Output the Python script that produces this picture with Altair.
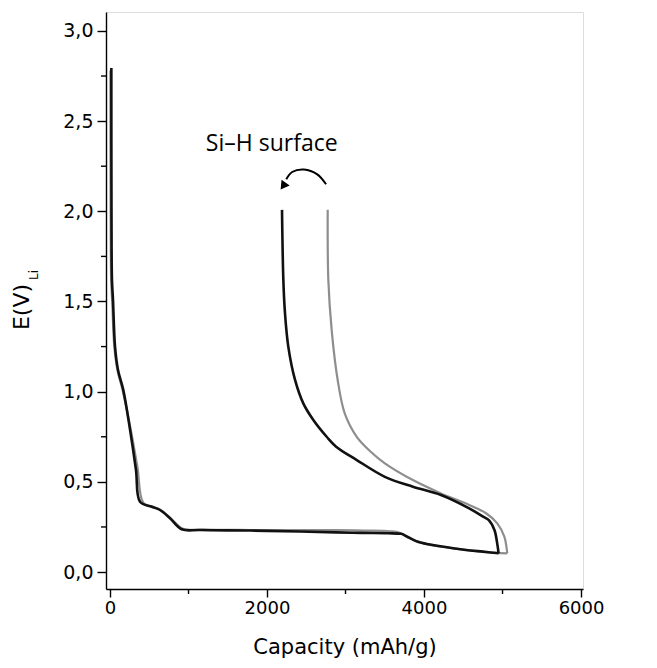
import altair as alt
import pandas as pd

# ---- data (Capacity mAh/g, E V vs Li) ----
# black curve (Si-H surface) : first lithiation
blk_dis_x = [17, 19, 25, 38, 64, 102, 169, 255, 331, 382, 531, 637, 764, 913, 1146, 1783,
             2420, 2880, 3200, 3540, 3710, 3750, 3835, 3920, 4060, 4390, 4750, 4950]
blk_dis_y = [2.795, 2.008, 1.62, 1.51, 1.25, 1.12, 1.01, 0.79, 0.566, 0.39, 0.362, 0.344, 0.298,
             0.237, 0.233, 0.230, 0.225, 0.220, 0.217, 0.215, 0.212, 0.205, 0.185, 0.168, 0.154,
             0.131, 0.113, 0.104]
# black curve : delithiation
blk_chg_x = [4950, 4932, 4897, 4825, 4753, 4575, 4216, 3858, 3501, 3143, 2880, 2760, 2590,
             2462, 2357, 2271, 2229, 2208, 2191]
blk_chg_y = [0.104, 0.159, 0.233, 0.288, 0.307, 0.353, 0.427, 0.473, 0.528, 0.621, 0.695,
             0.75, 0.843, 0.935, 1.065, 1.25, 1.435, 1.62, 2.008]
# grey curve : first lithiation
gry_dis_x = [5, 8, 15, 28, 55, 95, 165, 260, 350, 424, 560, 660, 780, 930, 1200, 1800, 2400,
             2880, 3230, 3570, 3690, 3800, 4030, 4350, 4710, 4910, 5060]
gry_dis_y = [2.78, 2.0, 1.62, 1.5, 1.25, 1.12, 1.0, 0.80, 0.58, 0.385, 0.36, 0.34, 0.295, 0.24,
             0.235, 0.233, 0.232, 0.232, 0.230, 0.226, 0.218, 0.19, 0.155, 0.133, 0.114, 0.106,
             0.104]
# grey curve : delithiation
gry_chg_x = [5060, 5058, 5023, 4933, 4790, 4575, 4216, 3858, 3501, 3321, 3143, 2990, 2900,
             2824, 2781, 2773]
gry_chg_y = [0.104, 0.113, 0.196, 0.27, 0.326, 0.372, 0.436, 0.51, 0.603, 0.667, 0.75, 0.88,
             1.065, 1.34, 1.62, 2.008]

# annotation
note_text = ["Si\u2013H surface"]
note_x = [2060]
note_y = [2.375]
arc_x = [2752, 2640, 2470, 2320, 2245]
arc_y = [2.150, 2.205, 2.232, 2.218, 2.178]
head_x = [2205]
head_y = [2.140]

# axes
x_ticks = [0, 2000, 4000, 6000]
x_minor = [1000, 3000, 5000]
y_ticks = [0.0, 0.5, 1.0, 1.5, 2.0, 2.5, 3.0]
y_minor = [0.25, 0.75, 1.25, 1.75, 2.25, 2.75]

W, H = 477, 577
XDOM = [-51, 6025]
YDOM = [-0.094, 3.105]
FONT = "DejaVu Sans"


def seg_df(xs, ys, name):
    return pd.DataFrame({"x": xs, "y": ys, "seg": name, "i": list(range(len(xs)))})


grey = pd.concat([seg_df(gry_dis_x, gry_dis_y, "gd"), seg_df(gry_chg_x, gry_chg_y, "gc")])
black = pd.concat([seg_df(blk_dis_x, blk_dis_y, "bd"), seg_df(blk_chg_x, blk_chg_y, "bc")])

xs = alt.Scale(domain=XDOM, nice=False, zero=False)
ys = alt.Scale(domain=YDOM, nice=False, zero=False)

x_axis = alt.Axis(values=x_ticks, format="d", tickSize=8, labelPadding=2, grid=False,
                  domainColor="black", tickColor="black", domainWidth=1.4, tickWidth=1.4,
                  labelColor="black", labelFont=FONT, labelFontSize=18,
                  title="Capacity (mAh/g)", titleFont=FONT, titleFontSize=21,
                  titleFontWeight="normal", titleColor="black", titlePadding=19)
y_axis = alt.Axis(values=y_ticks, tickSize=9, labelPadding=4, grid=False,
                  labelExpr="replace(format(datum.value, '.1f'), '.', ',')",
                  domainColor="black", tickColor="black", domainWidth=1.4, tickWidth=1.4,
                  labelColor="black", labelFont=FONT, labelFontSize=19, title=None)

grey_layer = alt.Chart(grey).mark_line(color="#8e8e8e", strokeWidth=2.2,
                                       interpolate="catmull-rom").encode(
    x=alt.X("x:Q", scale=xs, axis=x_axis),
    y=alt.Y("y:Q", scale=ys, axis=y_axis),
    detail="seg:N", order="i:Q")

black_layer = alt.Chart(black).mark_line(color="#111111", strokeWidth=2.6,
                                         interpolate="catmull-rom").encode(
    x=alt.X("x:Q", scale=xs), y=alt.Y("y:Q", scale=ys),
    detail="seg:N", order="i:Q")

note = alt.Chart(pd.DataFrame({"t": note_text, "x": note_x, "y": note_y})).mark_text(
    font="Open Sans", fontSize=23, color="black", align="center", baseline="middle").encode(
    x=alt.X("x:Q", scale=xs), y=alt.Y("y:Q", scale=ys), text="t:N")

arc = alt.Chart(pd.DataFrame({"x": arc_x, "y": arc_y, "i": list(range(len(arc_x)))})).mark_line(
    color="black", strokeWidth=2, interpolate="catmull-rom").encode(
    x=alt.X("x:Q", scale=xs), y=alt.Y("y:Q", scale=ys), order="i:Q")

head = alt.Chart(pd.DataFrame({"x": head_x, "y": head_y})).mark_point(
    shape="triangle-down", filled=True, color="black", size=100, angle=35, opacity=1).encode(
    x=alt.X("x:Q", scale=xs), y=alt.Y("y:Q", scale=ys))

ymin = alt.Chart(pd.DataFrame({"y": y_minor})).mark_rule(color="black", strokeWidth=1.4).encode(
    y=alt.Y("y:Q", scale=ys), x=alt.value(-5), x2=alt.value(0))
xmin = alt.Chart(pd.DataFrame({"x": x_minor})).mark_rule(color="black", strokeWidth=1.4).encode(
    x=alt.X("x:Q", scale=xs), y=alt.value(H), y2=alt.value(H + 5))

ytitle = alt.Chart(pd.DataFrame({"t": ["E(V)"]})).mark_text(
    font=FONT, fontSize=22, angle=270, color="black", align="center", baseline="middle").encode(
    text="t:N", x=alt.value(-84), y=alt.value(295))
ysub = alt.Chart(pd.DataFrame({"t": ["Li"]})).mark_text(
    font=FONT, fontSize=12, angle=270, color="black", align="center", baseline="middle").encode(
    text="t:N", x=alt.value(-72), y=alt.value(263))

chart = alt.layer(grey_layer, black_layer, arc, head, note, ymin, xmin, ytitle, ysub).properties(
    width=W, height=H,
    autosize=alt.AutoSizeParams(type="none"),
    padding={"left": 98, "top": 4, "right": 60, "bottom": 78},
).configure_view(stroke="black", strokeWidth=1.4).configure(background="white")

chart.save("out.html", embed_options={"renderer": "svg", "actions": False})
